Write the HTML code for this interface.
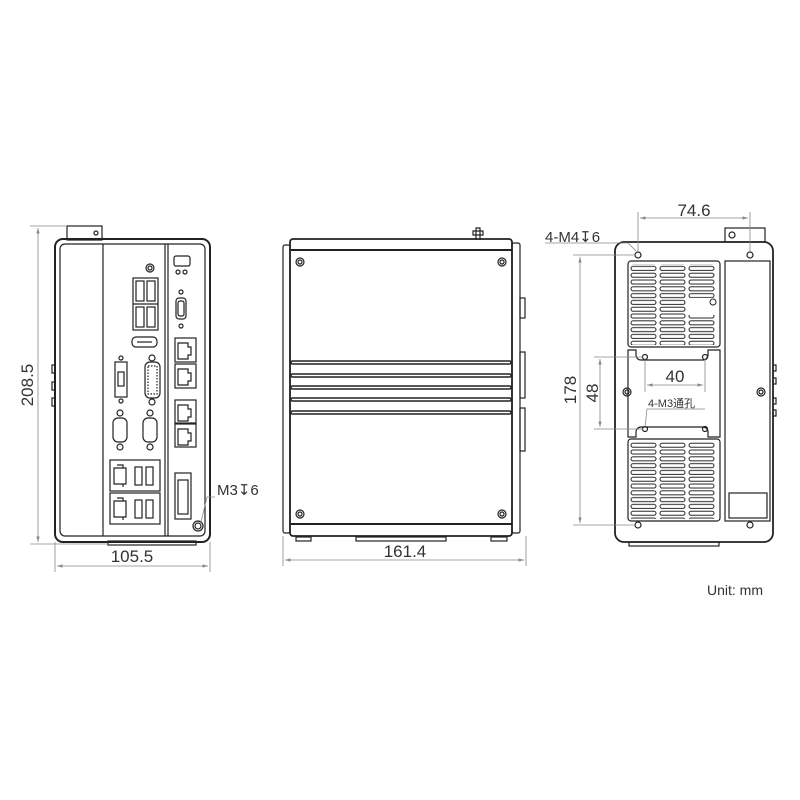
<!DOCTYPE html>
<html><head><meta charset="utf-8"><style>
html,body{margin:0;padding:0;background:#fff;}
svg{display:block;}
text{font-family:"Liberation Sans","Noto Sans CJK SC",sans-serif;fill:#333;}
</style></head><body>
<svg width="800" height="800" viewBox="0 0 800 800" xmlns="http://www.w3.org/2000/svg">
<defs>
<pattern id="slot" x="630" y="0" width="29" height="6.8" patternUnits="userSpaceOnUse">
<rect x="1" y="1.2" width="25" height="4" rx="2" fill="none" stroke="#222" stroke-width="1"/>
</pattern>
<marker id="ar" viewBox="0 0 10 10" refX="10" refY="5" markerWidth="7" markerHeight="7" orient="auto-start-reverse"><path d="M0,2 L10,5 L0,8" fill="#888"/></marker>
</defs>
<g fill="none" stroke="#222" stroke-width="1.2">
<rect x="67" y="226" width="35" height="14"/>
<circle cx="96" cy="233" r="2"/>
<rect x="55" y="239" width="155" height="303" rx="8" stroke-width="2"/>
<rect x="60" y="244" width="145" height="292" rx="5"/>
<line x1="103" y1="244" x2="103" y2="536"/>
<line x1="165" y1="244" x2="165" y2="536"/>
<line x1="168" y1="244" x2="168" y2="536"/>
<rect x="108" y="541" width="88" height="4"/>
<path d="M55 365h-3v8h3M55 382h-3v8h3M55 398h-3v8h3"/>
<circle cx="150" cy="268" r="4"/><circle cx="150" cy="268" r="2"/>
<rect x="133" y="278" width="25" height="52"/>
<line x1="133" y1="304" x2="158" y2="304"/>
<rect x="136" y="281" width="8" height="20"/><rect x="147" y="281" width="8" height="20"/>
<rect x="136" y="307" width="8" height="20"/><rect x="147" y="307" width="8" height="20"/>
<rect x="132" y="337" width="25" height="10" rx="4"/>
<line x1="137" y1="342" x2="152" y2="342"/>
<circle cx="121" cy="358" r="2"/><rect x="115" y="362" width="12" height="35"/><rect x="118" y="372" width="6" height="14"/><circle cx="121" cy="401" r="2"/>
<circle cx="152" cy="358" r="3"/><rect x="145" y="362" width="15" height="36" rx="5"/><rect x="148" y="366" width="9" height="28" stroke-dasharray="1.5 1.5"/><circle cx="152" cy="402" r="3"/>
<circle cx="120" cy="413" r="3"/><rect x="113" y="418" width="14" height="24" rx="5"/><circle cx="120" cy="447" r="3"/>
<circle cx="150" cy="413" r="3"/><rect x="143" y="418" width="14" height="24" rx="5"/><circle cx="150" cy="447" r="3"/>
<rect x="110" y="460" width="50" height="31"/>
<rect x="110" y="493" width="50" height="31"/>
<path d="M114 468h12v16h-12zM117 465h6v3M117 484h6v3"/>
<path d="M114 501h12v16h-12zM117 498h6v3M117 517h6v3"/>
<rect x="135" y="467" width="7" height="18"/><rect x="146" y="467" width="7" height="18"/>
<rect x="135" y="500" width="7" height="18"/><rect x="146" y="500" width="7" height="18"/>
<rect x="174" y="256" width="16" height="10" rx="2"/>
<circle cx="178" cy="272" r="2"/><circle cx="185" cy="272" r="2"/>
<circle cx="181" cy="292" r="2"/><rect x="176" y="298" width="10" height="21" rx="3"/><rect x="178" y="301" width="6" height="15" rx="2"/><circle cx="181" cy="326" r="2"/>
<rect x="175" y="338" width="21" height="24"/><rect x="175" y="364" width="21" height="24"/>
<rect x="175" y="400" width="21" height="23"/><rect x="175" y="424" width="21" height="23"/>
<path d="M178 343h10v4h3v8h-3v4h-10z M178 369h10v4h3v8h-3v4h-10z M178 405h10v4h3v8h-3v4h-10z M178 429h10v4h3v8h-3v4h-10z"/>
<rect x="175" y="473" width="16" height="46"/><rect x="178" y="480" width="10" height="34"/>
<circle cx="198" cy="526" r="5"/><circle cx="198" cy="526" r="3"/>
<path d="M476 240v-12h4v12M473 231h10v4h-10z"/>
<rect x="283" y="245" width="7" height="288" rx="2"/>
<rect x="512" y="243" width="8" height="290" rx="2"/>
<rect x="290" y="239" width="222" height="297" rx="3" stroke-width="1.8"/>
<line x1="290" y1="250" x2="512" y2="250" stroke-width="2"/>
<line x1="290" y1="524" x2="512" y2="524" stroke-width="2"/>
<circle cx="300" cy="262" r="4"/><circle cx="300" cy="262" r="2"/>
<circle cx="502" cy="262" r="4"/><circle cx="502" cy="262" r="2"/>
<circle cx="300" cy="514" r="4"/><circle cx="300" cy="514" r="2"/>
<circle cx="502" cy="514" r="4"/><circle cx="502" cy="514" r="2"/>
<g stroke-width="1.5">
<rect x="291" y="361" width="220" height="3" rx="1.5"/>
<rect x="291" y="374" width="220" height="3" rx="1.5"/>
<rect x="291" y="386" width="220" height="3" rx="1.5"/>
<rect x="291" y="398" width="220" height="3" rx="1.5"/>
<rect x="291" y="411" width="220" height="3" rx="1.5"/>
</g>
<rect x="296" y="537" width="15" height="4"/><rect x="356" y="537" width="90" height="4"/><rect x="491" y="537" width="16" height="4"/>
<rect x="520" y="298" width="5" height="20"/><rect x="520" y="352" width="5" height="46"/><rect x="520" y="408" width="5" height="43"/>
<rect x="725" y="228" width="40" height="14"/>
<circle cx="732" cy="235" r="3"/>
<rect x="615" y="242" width="158" height="300" rx="9" stroke-width="1.8"/>
<rect x="629" y="542" width="90" height="4"/>
<circle cx="638" cy="255" r="3"/><circle cx="750" cy="255" r="3"/>
<circle cx="638" cy="525" r="3"/><circle cx="750" cy="525" r="3"/>
<rect x="628" y="261" width="92" height="86" rx="3"/>
<rect x="628" y="439" width="92" height="82" rx="3"/>
<path d="M628 350h8v5a5 5 0 0 0 5 5h62a5 5 0 0 0 5 -5v-5h12v87h-12v-5a5 5 0 0 0 -5 -5h-62a5 5 0 0 0 -5 5v5h-8z"/>
<circle cx="645" cy="357" r="2.5"/><circle cx="705" cy="357" r="2.5"/>
<circle cx="645" cy="429" r="2.5"/><circle cx="705" cy="429" r="2.5"/>
<circle cx="627" cy="392" r="4"/><circle cx="627" cy="392" r="2"/>
<rect x="725" y="261" width="45" height="260"/>
<rect x="729" y="493" width="38" height="25"/>
<circle cx="761" cy="392" r="4"/><circle cx="761" cy="392" r="2"/>
<path d="M773 365h3v6h-3M773 378h3v6h-3M773 398h3v6h-3M773 410h3v6h-3"/>
</g>
<rect x="630" y="264" width="87" height="81" fill="url(#slot)"/>
<rect x="630" y="441" width="87" height="78" fill="url(#slot)"/>
<rect x="688" y="298" width="31" height="17" fill="#fff"/>
<circle cx="713" cy="302" r="3" fill="none" stroke="#222"/>
<g stroke="#888" stroke-width="0.8" fill="none">
<line x1="30" y1="226" x2="67" y2="226"/><line x1="30" y1="544" x2="108" y2="544"/>
<line x1="38" y1="228" x2="38" y2="542" marker-start="url(#ar)" marker-end="url(#ar)"/>
<line x1="55" y1="542" x2="55" y2="572"/><line x1="210" y1="542" x2="210" y2="572"/>
<line x1="57" y1="566" x2="208" y2="566" marker-start="url(#ar)" marker-end="url(#ar)"/>
<line x1="283" y1="536" x2="283" y2="566"/><line x1="526" y1="536" x2="526" y2="566"/>
<line x1="285" y1="560" x2="524" y2="560" marker-start="url(#ar)" marker-end="url(#ar)"/>
<line x1="638" y1="212" x2="638" y2="252"/><line x1="750" y1="212" x2="750" y2="252"/>
<line x1="640" y1="218" x2="748" y2="218" marker-start="url(#ar)" marker-end="url(#ar)"/>
<line x1="573" y1="255" x2="636" y2="255"/><line x1="573" y1="525" x2="636" y2="525"/>
<line x1="580" y1="257" x2="580" y2="523" marker-start="url(#ar)" marker-end="url(#ar)"/>
<line x1="594" y1="357" x2="643" y2="357"/><line x1="594" y1="429" x2="643" y2="429"/>
<line x1="600" y1="359" x2="600" y2="427" marker-start="url(#ar)" marker-end="url(#ar)"/>
<line x1="645" y1="359" x2="645" y2="392"/><line x1="705" y1="359" x2="705" y2="392"/>
<line x1="647" y1="385" x2="703" y2="385" marker-start="url(#ar)" marker-end="url(#ar)"/>
<path d="M545 243h83l8 8"/>
<path d="M215 497h-8l-6 25"/>
<path d="M705 409h-58l-2 18"/>
</g>
<text x="36" y="385" font-size="17" text-anchor="middle" transform="rotate(-90 36 385)" dy="-3">208.5</text>
<text x="132" y="562" font-size="17" text-anchor="middle">105.5</text>
<text x="405" y="557" font-size="17" text-anchor="middle">161.4</text>
<text x="694" y="216" font-size="17" text-anchor="middle">74.6</text>
<text x="545" y="242" font-size="15">4-M4↧6</text>
<text x="217" y="495" font-size="15">M3↧6</text>
<text x="576" y="390" font-size="17" text-anchor="middle" transform="rotate(-90 576 390)">178</text>
<text x="598" y="393" font-size="17" text-anchor="middle" transform="rotate(-90 598 393)">48</text>
<text x="675" y="382" font-size="17" text-anchor="middle">40</text>
<text x="648" y="407" font-size="11">4-M3通孔</text>
<text x="707" y="595" font-size="14">Unit: mm</text>
</svg>
</body></html>
